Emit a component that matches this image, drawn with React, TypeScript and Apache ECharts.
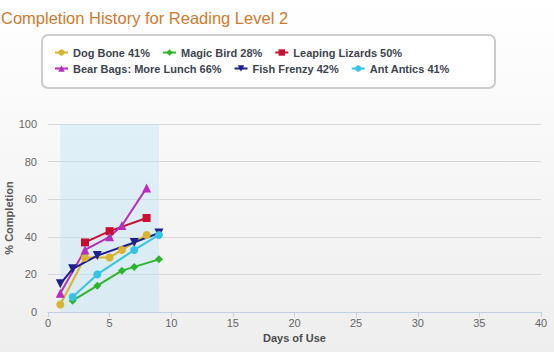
import React, { useEffect, useRef } from "react";
import * as echarts from "echarts";

const seriesNames = [
  "Dog Bone 41%",
  "Magic Bird 28%",
  "Leaping Lizards 50%",
  "Bear Bags: More Lunch 66%",
  "Fish Frenzy 42%",
  "Ant Antics 41%",
];

const dogBone: number[][] = [[1, 4], [3, 29], [5, 29], [6, 33], [8, 41]];
const magicBird: number[][] = [[2, 6], [4, 14], [6, 22], [7, 24], [9, 28]];
const leapingLizards: number[][] = [[3, 37], [5, 43], [8, 50]];
const bearBags: number[][] = [[1, 10], [3, 33], [5, 40], [6, 46], [8, 66]];
const fishFrenzy: number[][] = [[1, 15], [2, 23], [4, 30], [7, 37], [9, 42]];
const antAntics: number[][] = [[2, 8], [4, 20], [7, 33], [9, 41]];

const bandRange = [1, 9];

const colors = ["#D9B42E", "#2DB52D", "#C8102E", "#B72DBF", "#1F1F8F", "#35C3E6"];
const symbols = [
  "circle",
  "diamond",
  "rect",
  "triangle",
  "path://M0,0 L10,0 L5,10 Z",
  "circle",
];
const symbolSizes = [8, 8, 8, 9, 9, 8];

const FONT = "'Liberation Sans', Arial, sans-serif";

export default function App() {
  const ref = useRef<HTMLDivElement>(null);
  useEffect(() => {
    if (!ref.current) return;
    const chart = echarts.init(ref.current, null, { renderer: "svg" });
    const datas = [dogBone, magicBird, leapingLizards, bearBags, fishFrenzy, antAntics];
    const series: any[] = datas.map((d, i) => ({
      name: seriesNames[i],
      type: "line",
      data: d,
      symbol: symbols[i],
      symbolSize: symbolSizes[i],
      lineStyle: { width: 2, color: colors[i] },
      itemStyle: { color: colors[i] },
      z: 3,
    }));
    series[0].markArea = {
      silent: true,
      itemStyle: { color: "rgba(190,228,247,0.45)" },
      data: [[{ xAxis: bandRange[0], yAxis: 0 }, { xAxis: bandRange[1], yAxis: 102 }]],
      z: 1,
    };
    const legendCommon = {
      left: 54,
      itemGap: 12,
      itemWidth: 13,
      itemHeight: 8,
      padding: 0,
      textStyle: { fontSize: 11, fontWeight: "bold", color: "#3D4450", fontFamily: FONT },
    };
    chart.setOption({
      animation: false,
      backgroundColor: {
        type: "linear",
        x: 0,
        y: 0,
        x2: 0,
        y2: 1,
        colorStops: [
          { offset: 0, color: "#ffffff" },
          { offset: 1, color: "#eeeeee" },
        ],
      },
      color: colors,
      title: {
        text: "Completion History for Reading Level 2",
        left: -4,
        top: 4,
        textStyle: { fontSize: 16.5, fontWeight: "normal", color: "#D07A2E", fontFamily: FONT },
      },
      graphic: [
        {
          type: "rect",
          shape: { x: 42, y: 35, width: 453, height: 53, r: 6 },
          style: { fill: "#ffffff", stroke: "#CCCCCC", lineWidth: 2 },
          z: 0,
        },
      ],
      legend: [
        { ...legendCommon, top: 47, data: seriesNames.slice(0, 3) },
        { ...legendCommon, top: 63, data: seriesNames.slice(3, 6) },
      ],
      grid: {
        left: 48,
        right: 13,
        top: 124,
        bottom: 40,
        containLabel: false,
        outerBoundsMode: "none",
      },
      xAxis: {
        type: "value",
        min: 0,
        max: 40,
        interval: 5,
        name: "Days of Use",
        nameLocation: "middle",
        nameGap: 20,
        nameMoveOverlap: false,
        nameTextStyle: { fontSize: 11, fontWeight: "bold", color: "#4D4D4D", fontFamily: FONT },
        axisLine: { lineStyle: { color: "#C0D0E0", width: 1 } },
        axisTick: { show: true, length: 5, lineStyle: { color: "#C0D0E0" } },
        axisLabel: { fontSize: 11, color: "#666666", margin: 5, fontFamily: FONT },
        splitLine: { show: false },
      },
      yAxis: {
        type: "value",
        min: 0,
        max: 100,
        interval: 20,
        name: "% Completion",
        nameLocation: "middle",
        nameRotate: 90,
        nameGap: 34,
        nameMoveOverlap: false,
        nameTextStyle: { fontSize: 11, fontWeight: "bold", color: "#555555", fontFamily: FONT },
        axisLine: { show: false },
        axisTick: { show: false },
        axisLabel: { fontSize: 11, color: "#666666", margin: 11, fontFamily: FONT },
        splitLine: { lineStyle: { color: "#D8D8D8", width: 1 } },
      },
      series,
    });
    return () => chart.dispose();
  }, []);
  return <div ref={ref} style={{ width: 554, height: 352, position: "absolute", left: 0, top: 0 }} />;
}
